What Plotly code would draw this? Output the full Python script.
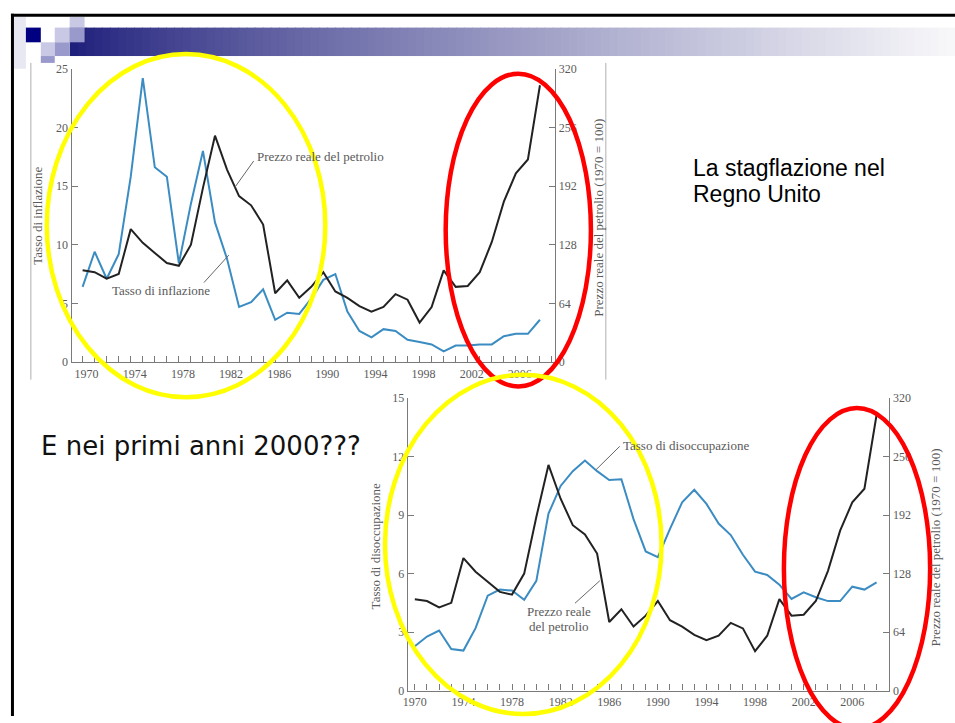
import plotly.graph_objects as go

W, H = 955, 723

# ---------------- data ----------------
years = list(range(1970, 2009))
inflation = [6.4, 9.4, 7.1, 9.2, 15.8, 24.2, 16.6, 15.8, 8.4, 13.5,
             18.0, 11.9, 8.8, 4.7, 5.1, 6.2, 3.6, 4.2, 4.1, 5.4,
             7.0, 7.5, 4.3, 2.65, 2.1, 2.8, 2.65, 1.9, 1.7, 1.5,
             0.9, 1.4, 1.4, 1.5, 1.5, 2.2, 2.4, 2.4, 3.6]
oil_price = [100, 98, 91, 96, 145, 130, 119, 108, 105, 128,
             190, 247, 210, 181, 171, 150, 75, 89, 70, 82,
             98, 77, 70, 61, 55, 60, 74, 68, 43, 60,
             100, 82, 83, 98, 131, 175, 206, 221, 302]
unemployment = [2.27, 2.77, 3.08, 2.13, 2.05, 3.2, 4.87, 5.18, 5.13, 4.66,
                5.63, 9.08, 10.5, 11.26, 11.8, 11.26, 10.8, 10.84, 8.8, 7.14,
                6.84, 8.3, 9.66, 10.3, 9.58, 8.57, 7.98, 6.97, 6.1, 5.93,
                5.43, 4.7, 5.04, 4.79, 4.59, 4.59, 5.33, 5.18, 5.55]
x_tick_years = list(range(1970, 2010))
x_tick_text = [str(y) if (y - 1970) % 4 == 0 and y <= 2006 else "" for y in x_tick_years]
infl_ticks = [0, 5, 10, 15, 20, 25]
unemp_ticks = [0, 3, 6, 9, 12, 15]
oil_ticks = [0, 64, 128, 192, 256, 320]


def fx(p):
    return p / W


def fy(p):
    return 1 - p / H


BLUE = "#3b8cc2"
BLACK = "#222222"
AXC = "#7a7a7a"
TXT = "#5a5a5a"
SERIF = "Liberation Serif"
SANS = "Liberation Sans"

fig = go.Figure()
fig.add_trace(go.Scatter(x=years, y=oil_price, xaxis="x", yaxis="y2", mode="lines",
                         line=dict(color=BLACK, width=2), showlegend=False, hoverinfo="skip"))
fig.add_trace(go.Scatter(x=years, y=inflation, xaxis="x", yaxis="y", mode="lines",
                         line=dict(color=BLUE, width=2), showlegend=False, hoverinfo="skip"))
fig.add_trace(go.Scatter(x=years, y=oil_price, xaxis="x2", yaxis="y4", mode="lines",
                         line=dict(color=BLACK, width=2), showlegend=False, hoverinfo="skip"))
fig.add_trace(go.Scatter(x=years, y=unemployment, xaxis="x2", yaxis="y3", mode="lines",
                         line=dict(color=BLUE, width=2), showlegend=False, hoverinfo="skip"))

ax = dict(showline=True, linecolor=AXC, linewidth=1.3, ticks="inside", ticklen=6,
          tickwidth=1.1, tickcolor=AXC, showgrid=False, zeroline=False,
          tickfont=dict(family=SERIF, size=12, color=TXT), fixedrange=True)

fig.update_layout(
    width=W, height=H, autosize=False,
    margin=dict(l=0, r=0, t=0, b=0),
    paper_bgcolor="white", plot_bgcolor="rgba(0,0,0,0)",
    showlegend=False,
    xaxis=dict(ax, domain=[fx(67), fx(553)], range=[1969.09, 2009.26], anchor="y",
               tickvals=x_tick_years, ticktext=x_tick_text, ticklabelshift=4),
    yaxis=dict(ax, domain=[fy(362), fy(63)], range=[0, 25], anchor="x",
               tickvals=infl_ticks),
    yaxis2=dict(ax, range=[0, 320], anchor="x", overlaying="y", side="right",
                tickvals=oil_ticks),
    xaxis2=dict(ax, domain=[fx(405), fx(889)], range=[1969.43, 2009.05], anchor="y3",
                tickvals=x_tick_years, ticktext=x_tick_text),
    yaxis3=dict(ax, domain=[fy(697), fy(399)], range=[0, 15], anchor="x2",
                tickvals=unemp_ticks),
    yaxis4=dict(ax, range=[0, 320], anchor="x2", overlaying="y3", side="right",
                tickvals=oil_ticks),
)

shapes = []


def rect(x0, y0, x1, y1, color):
    shapes.append(dict(type="rect", xref="paper", yref="paper", x0=fx(x0), x1=fx(x1),
                       y0=fy(y1), y1=fy(y0), fillcolor=color, line=dict(width=0), layer="above"))


def seg(x0, y0, x1, y1, color, width):
    shapes.append(dict(type="line", xref="paper", yref="paper", x0=fx(x0), x1=fx(x1),
                       y0=fy(y0), y1=fy(y1), line=dict(color=color, width=width), layer="above"))


def ell(x0, y0, x1, y1, color, width):
    shapes.append(dict(type="circle", xref="paper", yref="paper", x0=fx(x0), x1=fx(x1),
                       y0=fy(y1), y1=fy(y0), line=dict(color=color, width=width),
                       fillcolor="rgba(0,0,0,0)", layer="above"))


# header gradient bar
N = 110
gx0, gx1 = 65, 955
c0 = (28, 28, 122)
c1 = (248, 248, 250)
for i in range(N):
    t = (i + 0.5) / N
    tt = t ** 0.8
    col = tuple(int(round(c0[k] + (c1[k] - c0[k]) * tt)) for k in range(3))
    xa = gx0 + (gx1 - gx0) * i / N
    xb = gx0 + (gx1 - gx0) * (i + 1) / N + 0.8
    rect(xa, 21, xb, 50, "rgb(%d,%d,%d)" % col)

# decorative squares
rect(9, 10, 21, 63, "#e8e8f3")
rect(21, 21, 36, 36, "#000080")
rect(50, 21, 65, 36, "#c9c9e6")
rect(65, 10, 80, 21, "#c9c9e6")
rect(65, 21, 80, 36, "#9999cc")
rect(36, 36, 50, 50, "#c9c9e6")
rect(50, 36, 65, 50, "#9999cc")
rect(36, 50, 50, 57, "#9999cc")

# slide border
seg(6, 8.5, 955, 8.5, "black", 3)
seg(7.5, 7, 7.5, 723, "black", 3)

# faint image edges of the first chart
seg(26, 57, 26, 380, "#b0b0b0", 1)
seg(604, 57, 604, 380, "#b0b0b0", 1)

# leader lines
seg(250, 157, 231, 184, "#666666", 1)
seg(200, 281, 225, 253, "#666666", 1)
seg(618, 448, 594, 472, "#666666", 1)
seg(573, 608, 598, 585, "#666666", 1)

# highlight ellipses
ell(42, 48, 322, 398, "#ffff00", 4.5)
ell(443, 68, 589, 387, "#ff0000", 4.5)
ell(382, 375, 660, 721, "#ffff00", 4.5)
ell(783, 409, 930, 736, "#ff0000", 4.5)

fig.update_layout(shapes=shapes)

ann = []


def text(x, y, s, size, family, color, xanchor="left", angle=0):
    ann.append(dict(x=fx(x), y=fy(y), xref="paper", yref="paper", text=s, showarrow=False,
                    xanchor=xanchor, yanchor="middle", textangle=angle,
                    font=dict(family=family, size=size, color=color)))


# chart labels
text(251, 152, "Prezzo reale del petrolio", 13, SERIF, TXT)
text(106, 289, "Tasso di inflazione", 13, SERIF, TXT)
text(619, 447, "Tasso di disoccupazione", 13, SERIF, TXT)
text(557, 616, "Prezzo reale", 13, SERIF, TXT, xanchor="center")
text(557, 632, "del petrolio", 13, SERIF, TXT, xanchor="center")

# axis titles
text(33, 213, "Tasso di inflazione", 13, SERIF, TXT, xanchor="center", angle=-90)
text(597, 215, "Prezzo reale del petrolio (1970 = 100)", 13, SERIF, TXT, xanchor="center", angle=-90)
text(372, 550, "Tasso di disoccupazione", 13, SERIF, TXT, xanchor="center", angle=-90)
text(935, 551, "Prezzo reale del petrolio (1970 = 100)", 13, SERIF, TXT, xanchor="center", angle=-90)

# slide text
text(690, 164, "La stagflazione nel", 23, SANS, "black")
text(690, 191, "Regno Unito", 23, SANS, "black")
text(34, 448, "E nei primi anni 2000???", 26, "DejaVu Sans", "#111111")

fig.update_layout(annotations=ann)

fig.write_html("out.html", config={"displayModeBar": False},
               post_script="document.body.style.margin='0';document.body.style.overflow='hidden';")
